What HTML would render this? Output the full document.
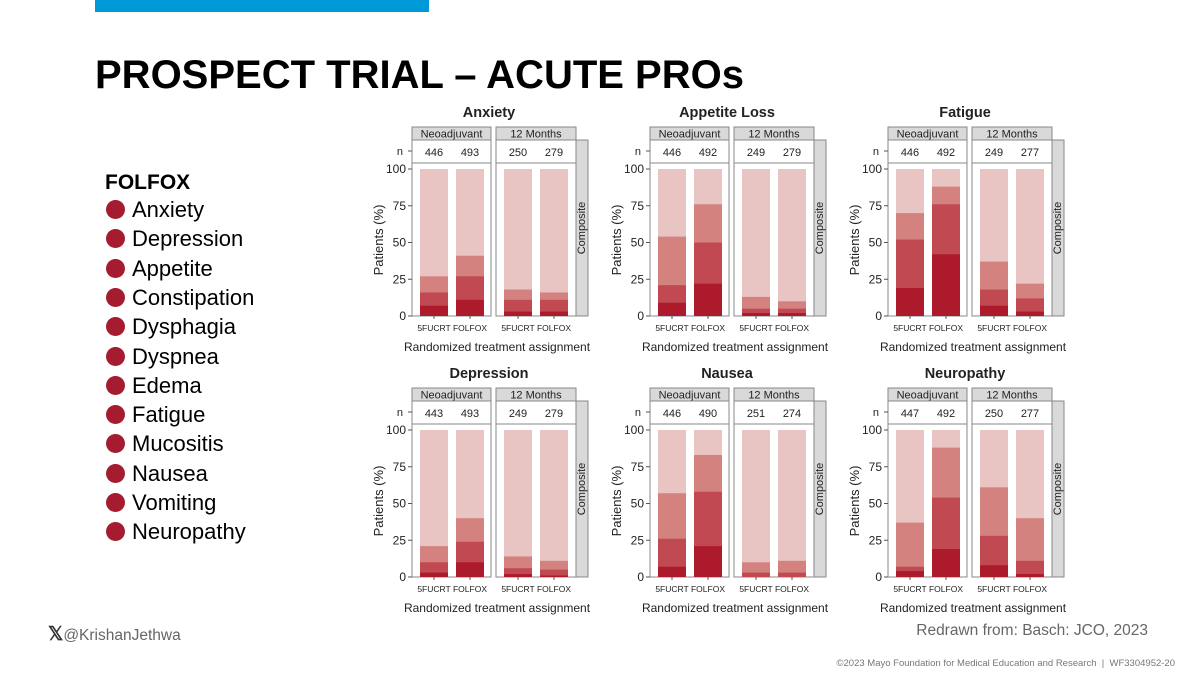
<!DOCTYPE html>
<html><head><meta charset="utf-8">
<style>
body{margin:0;width:1200px;height:675px;background:#fff;overflow:hidden;font-family:"Liberation Sans",Arial,sans-serif;position:relative}
.t{position:absolute;white-space:nowrap}
</style></head><body>
<div style="position:absolute;left:95px;top:0;width:334px;height:12px;background:#0099d8"></div>
<div class="t" style="left:95px;top:53px;font-size:40px;font-weight:bold;color:#000">PROSPECT TRIAL – ACUTE PROs</div>
<div class="t" style="left:105px;top:171px;font-size:21px;font-weight:bold">FOLFOX</div>
<div id="list"></div>
<div class="t" style="left:48px;top:623px;font-size:15.5px;color:#666"><span style="font-weight:bold;font-size:19px;color:#333">𝕏</span>@KrishanJethwa</div>
<div class="t" style="right:52px;top:622px;font-size:15.5px;color:#666">Redrawn from: Basch: JCO, 2023</div>
<div class="t" style="right:25px;top:658px;font-size:9.5px;color:#777">©2023 Mayo Foundation for Medical Education and Research &nbsp;|&nbsp; WF3304952-20</div>
<svg id="c" width="1200" height="675" style="position:absolute;left:0;top:0"></svg>
<script>
const symptoms=["Anxiety","Depression","Appetite","Constipation","Dysphagia","Dyspnea","Edema","Fatigue","Mucositis","Nausea","Vomiting","Neuropathy"];
const panelTitles=["Anxiety","Appetite Loss","Fatigue","Depression","Nausea","Neuropathy"];
const nValues=[[446,493,250,279],[446,492,249,279],[446,492,249,277],[443,493,249,279],[446,490,251,274],[447,492,250,277]];
// cumulative tops of segments (dark, mid, light-mid) per bar: 5FUCRT neo, FOLFOX neo, 5FUCRT 12m, FOLFOX 12m
const darkSeg=[[7,11,3,3],[9,22,2,2],[19,42,7,3],[3,10,2,1],[7,21,0,0],[4,19,8,2]];
const midSeg=[[16,27,11,11],[21,50,5,5],[52,76,18,12],[10,24,6,5],[26,58,3,3],[7,54,28,11]];
const lightSeg=[[27,41,18,16],[54,76,13,10],[70,88,37,22],[21,40,14,11],[57,83,10,11],[37,88,61,40]];
const yTicks=[0,25,50,75,100];
const armLabels=["5FUCRT","FOLFOX"];

const L=document.getElementById('list');
symptoms.forEach((s,i)=>{
  const d=document.createElement('div');d.className='t';
  
  
  d.style.left='106px';d.style.top=(197+i*29.3)+'px';d.style.fontSize='22px';
  d.innerHTML='<span style="display:inline-block;width:19px;height:19px;border-radius:50%;background:#a51c30;vertical-align:-2px;margin-right:7px"></span>'+s;
  L.appendChild(d);
});

const NS='http://www.w3.org/2000/svg',svg=document.getElementById('c');
function el(t,a,p,txt){const e=document.createElementNS(NS,t);for(const k in a)e.setAttribute(k,a[k]);if(txt!=null)e.textContent=txt;(p||svg).appendChild(e);return e;}
const cols=['#e8c4c2','#d3827f','#c14a52','#ad1a2c'];
panelTitles.forEach((title,pi)=>{
  const ox=(pi%3)*238, oy=Math.floor(pi/3)*261;
  const g=el('g',{transform:`translate(${ox},${oy})`});
  
  
  const y=v=>316-v*1.47;
  el('text',{x:489,y:117,'text-anchor':'middle','font-size':14.5,'font-weight':'bold',fill:'#222'},g,title);
  const facets=[[412,491,'Neoadjuvant'],[496,576,'12 Months']];
  facets.forEach((f,fi)=>{
    el('rect',{x:f[0],y:127,width:f[1]-f[0],height:13,fill:'#d9d9d9',stroke:'#888'},g);
    el('text',{x:(f[0]+f[1])/2,y:137.5,'text-anchor':'middle','font-size':11,fill:'#222'},g,f[2]);
    el('rect',{x:f[0],y:140,width:f[1]-f[0],height:23,fill:'#fff',stroke:'#888'},g);
    el('rect',{x:f[0],y:163,width:f[1]-f[0],height:153,fill:'#fff',stroke:'#888'},g);
    for(let b=0;b<2;b++){
      const bi=fi*2+b, bx=f[0]+(b?44:8), bw=28, cx=bx+14;
      el('text',{x:cx,y:156,'text-anchor':'middle','font-size':11,fill:'#222'},g,nValues[pi][bi]);
      const vals=[100,lightSeg[pi][bi],midSeg[pi][bi],darkSeg[pi][bi]];
      vals.forEach((v,k)=>{
        const r=el('rect',{x:bx,y:y(v),width:bw,height:316-y(v),fill:cols[k]},g);
        
        
      });
      el('line',{x1:cx,x2:cx,y1:316,y2:319,stroke:'#555'},g);
      el('text',{x:cx,y:331,'text-anchor':'middle','font-size':8.5,fill:'#222'},g,armLabels[b]);
    }
  });
  el('rect',{x:576,y:140,width:12,height:176,fill:'#d9d9d9',stroke:'#888'},g);
  el('text',{transform:'translate(585,228) rotate(-90)','text-anchor':'middle','font-size':11,fill:'#222'},g,'Composite');
  el('text',{x:403,y:155,'text-anchor':'end','font-size':11,fill:'#222'},g,'n');
  el('line',{x1:408,x2:412,y1:151,y2:151,stroke:'#555'},g);
  yTicks.forEach(t=>{
    el('line',{x1:408,x2:412,y1:y(t),y2:y(t),stroke:'#555'},g);
    el('text',{x:406,y:y(t)+4,'text-anchor':'end','font-size':12,fill:'#222'},g,t);
  });
  el('text',{transform:'translate(383,240) rotate(-90)','text-anchor':'middle','font-size':13,fill:'#222'},g,'Patients (%)');
  el('text',{x:497,y:351,'text-anchor':'middle','font-size':12,fill:'#222'},g,'Randomized treatment assignment');
});
</script>
</body></html>
